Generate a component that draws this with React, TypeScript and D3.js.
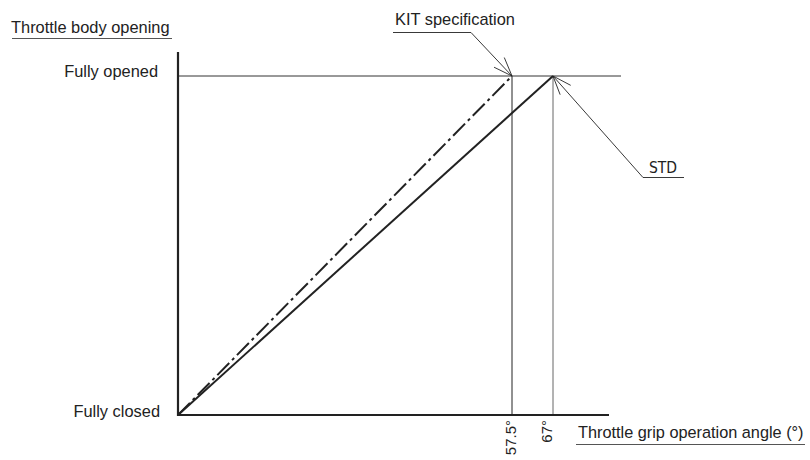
import React from "react";
import * as d3 from "d3";

const yLevels = ["Fully closed", "Fully opened"];
const tickAngles = [57.5, 67];
const tickLabels = ["57.5°", "67°"];
const kitSeries: [number, number][] = [[0, 0], [57.5, 1]];
const stdSeries: [number, number][] = [[0, 0], [67, 1]];
const yTitle = "Throttle body opening";
const xTitle = "Throttle grip operation angle (°)";
const kitLabel = "KIT specification";
const stdLabel = "STD";

const W = 810, H = 460;
const x = d3.scaleLinear().domain([0, 57.5, 67, 77.5]).range([178, 512, 553, 609]);
const y = d3.scaleLinear().domain([0, 1]).range([415, 76]);
const line = d3.line<[number, number]>().x(d => x(d[0])).y(d => y(d[1]));

function Arrow({ tx, ty, fx, fy }: { tx: number; ty: number; fx: number; fy: number }) {
  const ang = Math.atan2(fy - ty, fx - tx);
  const len = 20, spread = 0.36;
  const p1 = [tx + len * Math.cos(ang + spread), ty + len * Math.sin(ang + spread)];
  const p2 = [tx + len * Math.cos(ang - spread), ty + len * Math.sin(ang - spread)];
  return (
    <g stroke="#222" strokeWidth={0.9} fill="none">
      <line x1={tx} y1={ty} x2={p1[0]} y2={p1[1]} />
      <line x1={tx} y1={ty} x2={p2[0]} y2={p2[1]} />
    </g>
  );
}

export default function App() {
  const font = "'Liberation Sans', Arial, sans-serif";
  const cond = "'DejaVu Sans Condensed', 'DejaVu Sans', sans-serif";
  const kitTip = [x(kitSeries[1][0]), y(kitSeries[1][1])];
  const stdTip = [x(stdSeries[1][0]), y(stdSeries[1][1])];
  const tickDx = [4, -1];
  return (
    <svg width={W} height={H} style={{ position: "absolute", left: 0, top: 0 }} fontFamily={font}>
      <rect width={W} height={H} fill="#fff" />
      {/* y title */}
      <text x={11} y={33} fontSize={16.4} fill="#222">{yTitle}</text>
      <line x1={12} x2={172} y1={38.5} y2={38.5} stroke="#555" strokeWidth={1} />
      {/* y level labels */}
      <text x={158} y={77} fontSize={16.4} fill="#222" textAnchor="end">{yLevels[1]}</text>
      <text x={160} y={417} fontSize={16.4} fill="#222" textAnchor="end">{yLevels[0]}</text>
      {/* fully opened reference line */}
      <line x1={x(0)} x2={621} y1={y(1)} y2={y(1)} stroke="#333" strokeWidth={1} />
      {/* vertical guide lines */}
      {tickAngles.map((a, i) => (
        <line key={a} x1={x(a)} x2={x(a)} y1={y(1)} y2={y(0)} stroke={i === 0 ? "#222" : "#666"} strokeWidth={1} />
      ))}
      {/* axes */}
      <line x1={x(0)} x2={x(0)} y1={52} y2={y(0) + 1} stroke="#222" strokeWidth={2.2} />
      <line x1={x(0) - 1} x2={609} y1={y(0)} y2={y(0)} stroke="#222" strokeWidth={2.2} />
      {/* series */}
      <path d={line(kitSeries) || ""} stroke="#222" strokeWidth={2} fill="none" strokeDasharray="17 4 3 4" />
      <path d={line(stdSeries) || ""} stroke="#222" strokeWidth={2} fill="none" />
      {/* tick labels */}
      {tickAngles.map((a, i) => (
        <text key={a} transform={`translate(${x(a) + tickDx[i]},${420}) rotate(-90)`} fontSize={15} fill="#222" textAnchor="end">{tickLabels[i]}</text>
      ))}
      {/* x title */}
      <text x={578} y={438} fontSize={16.3} fill="#222">{xTitle}</text>
      <line x1={576} x2={805} y1={444.5} y2={444.5} stroke="#555" strokeWidth={1} />
      {/* KIT callout */}
      <text x={395} y={25} fontSize={16.4} fill="#222">{kitLabel}</text>
      <polyline points={`393,32.5 471,32.5 ${kitTip[0]},${kitTip[1]}`} fill="none" stroke="#222" strokeWidth={0.9} />
      <Arrow tx={kitTip[0]} ty={kitTip[1]} fx={471} fy={32.5} />
      {/* STD callout */}
      <text x={649} y={173} fontSize={15.5} fill="#222" style={{ fontFamily: cond }}>{stdLabel}</text>
      <polyline points={`${stdTip[0]},${stdTip[1]} 643,177.5 684,177.5`} fill="none" stroke="#222" strokeWidth={0.9} />
      <Arrow tx={stdTip[0]} ty={stdTip[1]} fx={643} fy={177.5} />
    </svg>
  );
}
